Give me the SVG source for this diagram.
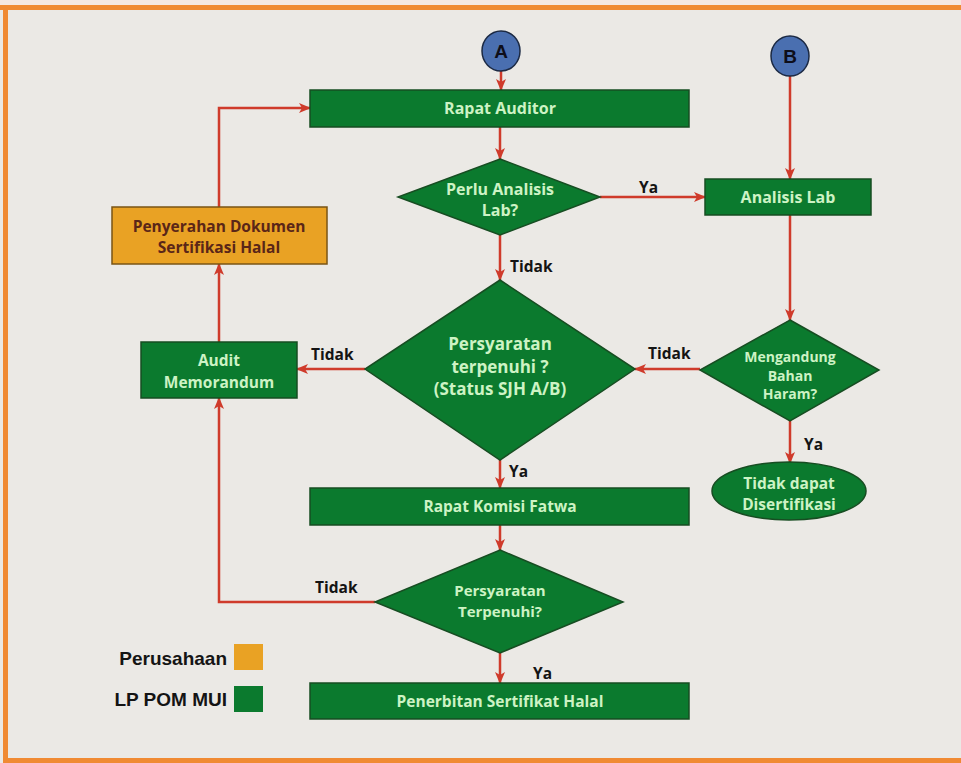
<svg xmlns="http://www.w3.org/2000/svg" width="961" height="763" viewBox="0 0 961 763">
<style>
.g{fill:#0b7a2e;stroke:#174d22;stroke-width:1.5}
.o{fill:#e9a224;stroke:#7a5414;stroke-width:1.5}
.c{fill:#4a6fb0;stroke:#1c2a44;stroke-width:1.5}
.t{font-family:"Open Sans","Liberation Sans",sans-serif;font-weight:bold;fill:#cdf3c4;text-anchor:middle}
.tb{font-family:"Open Sans","Liberation Sans",sans-serif;font-weight:bold;fill:#5a2618;text-anchor:middle}
.lbl{font-family:"Open Sans","Liberation Sans",sans-serif;font-weight:bold;fill:#141414;font-size:15.5px}
.lg{font-family:"Liberation Sans",Arial,sans-serif;font-weight:bold;fill:#141414;font-size:19px;text-anchor:end}
.ln{fill:none;stroke:#cf3b2b;stroke-width:2.5}
</style>
<defs>
<marker id="ah" markerUnits="userSpaceOnUse" markerWidth="12" markerHeight="12" viewBox="0 0 12 12" refX="11" refY="6" orient="auto">
<path d="M0,1 L12,6 L0,11 L3,6 Z" fill="#cf3b2b"/>
</marker>
</defs>
<rect x="0" y="0" width="961" height="763" fill="#ebe9e5"/>
<rect x="0" y="0" width="961" height="5" fill="#f5e8e2"/>
<rect x="0" y="5" width="961" height="5" fill="#f08a33"/>
<rect x="3" y="5" width="5" height="758" fill="#f08a33"/>
<rect x="3" y="758" width="958" height="5" fill="#f08a33"/>

<g id="connectors">
<path class="ln" d="M501,71 L501,90" marker-end="url(#ah)"/>
<path class="ln" d="M500,127 L500,159" marker-end="url(#ah)"/>
<path class="ln" d="M600,197 L705,197" marker-end="url(#ah)"/>
<path class="ln" d="M790,76 L790,179" marker-end="url(#ah)"/>
<path class="ln" d="M790,215 L790,320" marker-end="url(#ah)"/>
<path class="ln" d="M700,369 L635,369" marker-end="url(#ah)"/>
<path class="ln" d="M790,421 L790,463" marker-end="url(#ah)"/>
<path class="ln" d="M500,235 L500,280" marker-end="url(#ah)"/>
<path class="ln" d="M365,369 L297,369" marker-end="url(#ah)"/>
<path class="ln" d="M500,460 L500,488" marker-end="url(#ah)"/>
<path class="ln" d="M500,525 L500,550" marker-end="url(#ah)"/>
<path class="ln" d="M375,602 L219,602 L219,398" marker-end="url(#ah)"/>
<path class="ln" d="M219,342 L219,264" marker-end="url(#ah)"/>
<path class="ln" d="M219,207 L219,108 L310,108" marker-end="url(#ah)"/>
<path class="ln" d="M500,653 L500,683" marker-end="url(#ah)"/>
<text class="lbl" x="639" y="193">Ya</text>
<text class="lbl" x="510" y="272">Tidak</text>
<text class="lbl" x="648" y="359">Tidak</text>
<text class="lbl" x="311" y="360">Tidak</text>
<text class="lbl" x="804" y="450">Ya</text>
<text class="lbl" x="509" y="477">Ya</text>
<text class="lbl" x="315" y="593">Tidak</text>
<text class="lbl" x="533" y="679">Ya</text>
</g>

<g id="nodeA"><ellipse class="c" cx="501" cy="51" rx="19" ry="20"/><text x="501" y="58" font-family="Liberation Sans,Arial,sans-serif" font-weight="bold" font-size="19" fill="#0e0e1a" text-anchor="middle">A</text></g>
<g id="nodeB"><ellipse class="c" cx="790" cy="56" rx="19" ry="20"/><text x="790" y="63" font-family="Liberation Sans,Arial,sans-serif" font-weight="bold" font-size="19" fill="#0e0e1a" text-anchor="middle">B</text></g>

<g id="rapatAuditor"><rect class="g" x="310" y="90" width="379" height="37"/><text class="t" x="500" y="114" font-size="16">Rapat Auditor</text></g>
<g id="perluAnalisis"><polygon class="g" points="500,159 600,197 500,235 398,197"/><text class="t" x="500" y="195" font-size="16">Perlu Analisis</text><text class="t" x="500" y="216" font-size="16">Lab?</text></g>
<g id="analisisLab"><rect class="g" x="705" y="179" width="166" height="36"/><text class="t" x="788" y="203" font-size="16">Analisis Lab</text></g>
<g id="mengandung"><polygon class="g" points="790,320 879,370 790,421 700,370"/><text class="t" x="790" y="362" font-size="14">Mengandung</text><text class="t" x="790" y="380.5" font-size="14">Bahan</text><text class="t" x="790" y="399" font-size="14">Haram?</text></g>
<g id="tidakDapat"><ellipse class="g" cx="789" cy="491" rx="77" ry="29"/><text class="t" x="789" y="489" font-size="15.5">Tidak dapat</text><text class="t" x="789" y="510" font-size="15.5">Disertifikasi</text></g>
<g id="persyaratan1"><polygon class="g" points="500,280 635,369 500,460 365,369"/><text class="t" x="500" y="350" font-size="17">Persyaratan</text><text class="t" x="500" y="372.5" font-size="17">terpenuhi ?</text><text class="t" x="500" y="395" font-size="17">(Status SJH A/B)</text></g>
<g id="auditMemo"><rect class="g" x="141" y="342" width="156" height="56"/><text class="t" x="219" y="366" font-size="15.5">Audit</text><text class="t" x="219" y="388" font-size="15.5">Memorandum</text></g>
<g id="penyerahan"><rect class="o" x="112" y="207" width="215" height="57"/><text class="tb" x="219" y="232" font-size="15.5">Penyerahan Dokumen</text><text class="tb" x="219" y="253" font-size="15.5">Sertifikasi Halal</text></g>
<g id="rapatKomisi"><rect class="g" x="310" y="488" width="379" height="37"/><text class="t" x="500" y="512" font-size="15.5">Rapat Komisi Fatwa</text></g>
<g id="persyaratan2"><polygon class="g" points="500,550 623,602 500,653 375,602"/><text class="t" x="500" y="596" font-size="15">Persyaratan</text><text class="t" x="500" y="617" font-size="15">Terpenuhi?</text></g>
<g id="penerbitan"><rect class="g" x="310" y="683" width="379" height="36"/><text class="t" x="500" y="707" font-size="15.5">Penerbitan Sertifikat Halal</text></g>

<g id="legend">
<text class="lg" x="227" y="665">Perusahaan</text>
<rect x="234" y="644" width="29" height="26" fill="#e9a224"/>
<text class="lg" x="227" y="706">LP POM MUI</text>
<rect x="234" y="686" width="29" height="26" fill="#0b7a2e"/>
</g>
</svg>
